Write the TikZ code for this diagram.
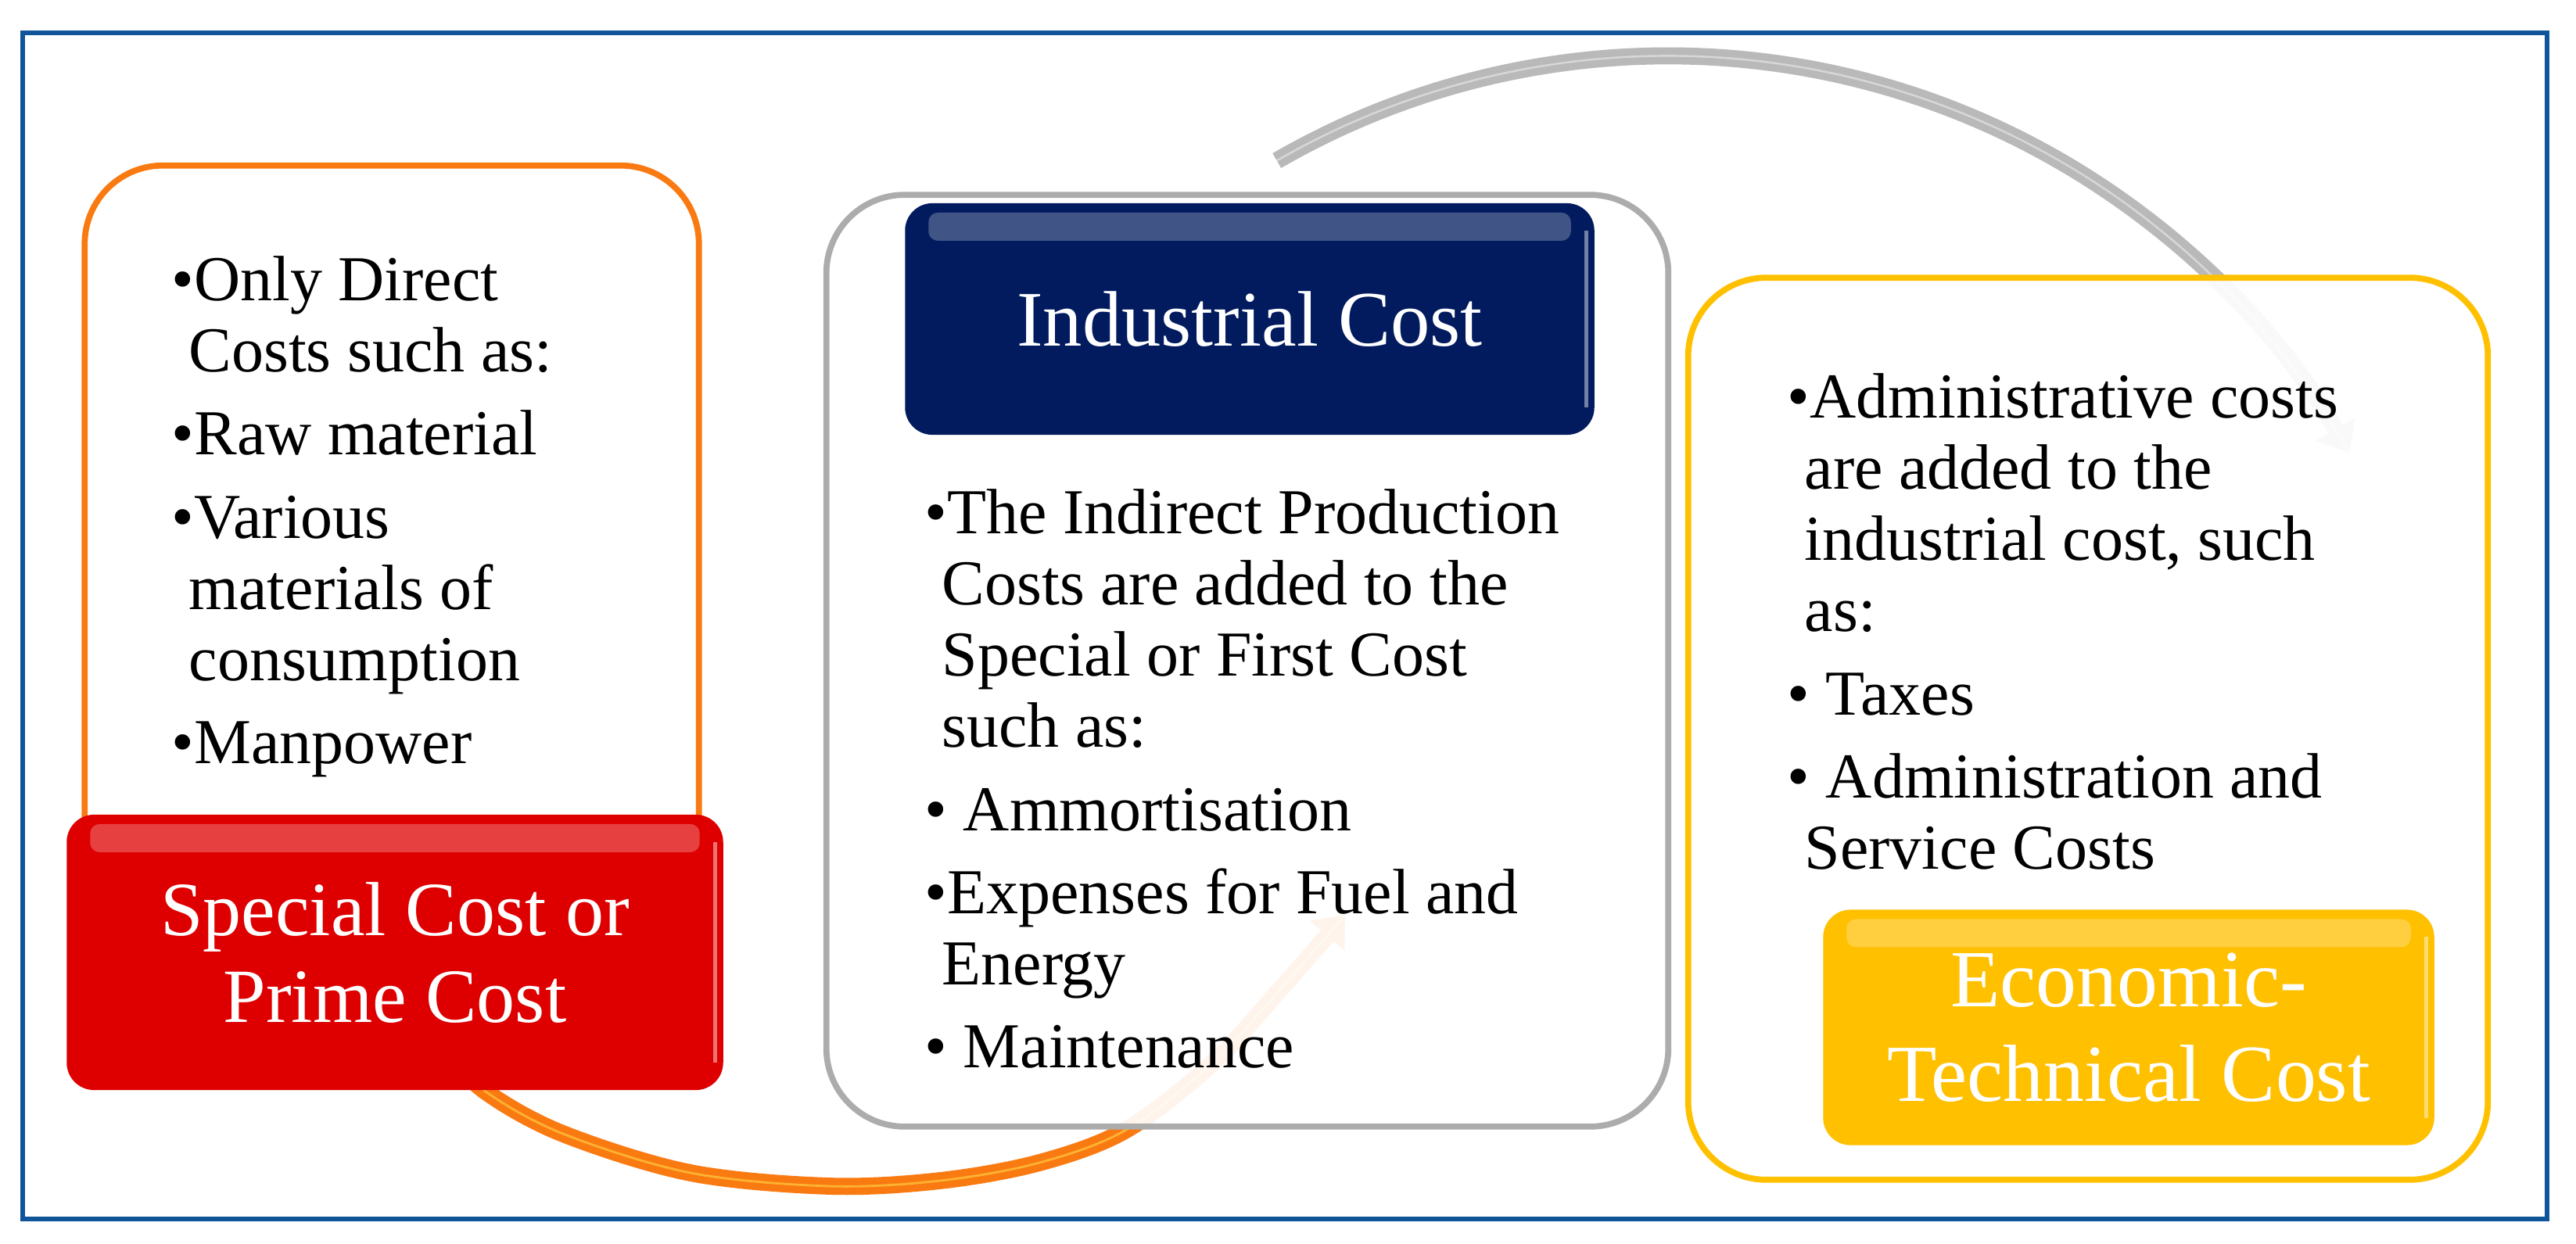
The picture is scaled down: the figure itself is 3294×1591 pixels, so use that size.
\documentclass[tikz,border=0pt]{standalone}
\usepackage{fontspec}
\setmainfont{Liberation Serif}
\usetikzlibrary{arrows.meta}

\definecolor{rahmenblau}{RGB}{16,84,154}
\definecolor{primerot}{RGB}{222,0,0}
\definecolor{indnavy}{RGB}{1,27,94}
\definecolor{ecogelb}{RGB}{255,192,0}
\definecolor{bogenorange}{RGB}{250,122,18}
\definecolor{bogengrau}{RGB}{185,185,185}

\newcommand{\bul}{\textbullet}
\newcommand{\einr}{\hspace*{0.22cm}}

\begin{document}
\begin{tikzpicture}[x=0.01cm, y=0.01cm,
    panel/.style={rounded corners=1cm, line width=2.2pt, fill=white, fill opacity=0.92, inner sep=0pt},
    kopf/.style={rounded corners=0.35cm, inner sep=0pt, text=white, align=center,
      path picture={
        \fill[white, opacity=0.25, rounded corners=0.12cm]
          ([xshift=0.3cm, yshift=-0.12cm]path picture bounding box.north west) rectangle
          ([xshift=-0.3cm, yshift=-0.48cm]path picture bounding box.north east);
        \draw[white, opacity=0.45, line width=1.5pt]
          ([xshift=-0.1cm, yshift=-0.35cm]path picture bounding box.north east) --
          ([xshift=-0.1cm, yshift=0.35cm]path picture bounding box.south east);}},
    liste/.style={anchor=north west, inner sep=0pt, align=left,
      font=\fontsize{23.3pt}{25.9pt}\selectfont},
    bogen/.style={line width=6.2pt, -{Triangle[width=16pt, length=10pt]}}]

        \useasboundingbox (0,0) rectangle (3294,-1591);

        % Rahmen
        \draw[rahmenblau, line width=1.7pt] (29,-42) rectangle (3257,-1559);

        % Bögen
        \coordinate (orstart) at (565,-1340);
        \coordinate (orziel) at (1720,-1170);
        \draw[bogen, bogenorange, postaction={draw=orange!55!yellow!75!white, line width=0.8pt, opacity=0.7, -}]
          plot[smooth, tension=0.55] coordinates {(orstart) (621,-1396) (720,-1450)
            (883,-1500) (1061,-1517) (1202,-1510) (1329,-1487) (1440,-1445)
            (1550,-1360) (1640,-1262) (orziel)};

        \coordinate (grmitte) at (2133,-1072);
        \coordinate (grstart) at ([shift={(120:10cm)}]grmitte);
        \draw[bogen, bogengrau, postaction={draw=gray!20, line width=0.7pt, opacity=0.7, -}]
          (grstart) arc[start angle=120, end angle=29.5, radius=10cm];

        % Felder
        \node[panel, draw=bogenorange, minimum width=7.85cm, minimum height=10.9cm] at (501,-757) (primebox) {};
        \node[panel, draw=gray!65, minimum width=10.76cm, minimum height=11.91cm] at (1595,-845) (indbox) {};
        \node[panel, draw=ecogelb, minimum width=10.22cm, minimum height=11.53cm] at (2670,-932) (ecobox) {};

        % Überschriften
        \node[kopf, fill=primerot, minimum width=8.39cm, minimum height=3.52cm,
          font=\fontsize{27.9pt}{31.6pt}\selectfont] at (505,-1218) (prime) {Special Cost or\\Prime Cost};
        \node[kopf, fill=indnavy, minimum width=8.81cm, minimum height=2.96cm,
          font=\fontsize{28.6pt}{30pt}\selectfont] at (1598,-408) (industrial) {Industrial Cost};
        \node[kopf, fill=ecogelb, minimum width=7.81cm, minimum height=3.01cm,
          font=\fontsize{29.5pt}{34.4pt}\selectfont] at (2722,-1314) (economic) {Economic-\\Technical Cost};

        % Listen
        \node[liste] at (219,-327) (primelist) {\bul Only Direct\\\einr Costs such as:\\[4.3pt]
          \bul Raw material\\[4.3pt]\bul Various\\\einr materials of\\\einr consumption\\[4.3pt]
          \bul Manpower};
        \node[liste] at (1182,-625) (indlist) {\bul The Indirect Production\\\einr Costs are added to the\\
          \einr Special or First Cost\\\einr such as:\\[4.3pt]\bul{} Ammortisation\\[4.3pt]
          \bul Expenses for Fuel and\\\einr Energy\\[4.3pt]\bul{} Maintenance};
        \node[liste] at (2285,-477) (ecolist) {\bul Administrative costs\\\einr are added to the\\
          \einr industrial cost, such\\\einr as:\\[4.3pt]\bul{} Taxes\\[4.3pt]
          \bul{} Administration and\\\einr Service Costs};

    \end{tikzpicture}
\end{document}
